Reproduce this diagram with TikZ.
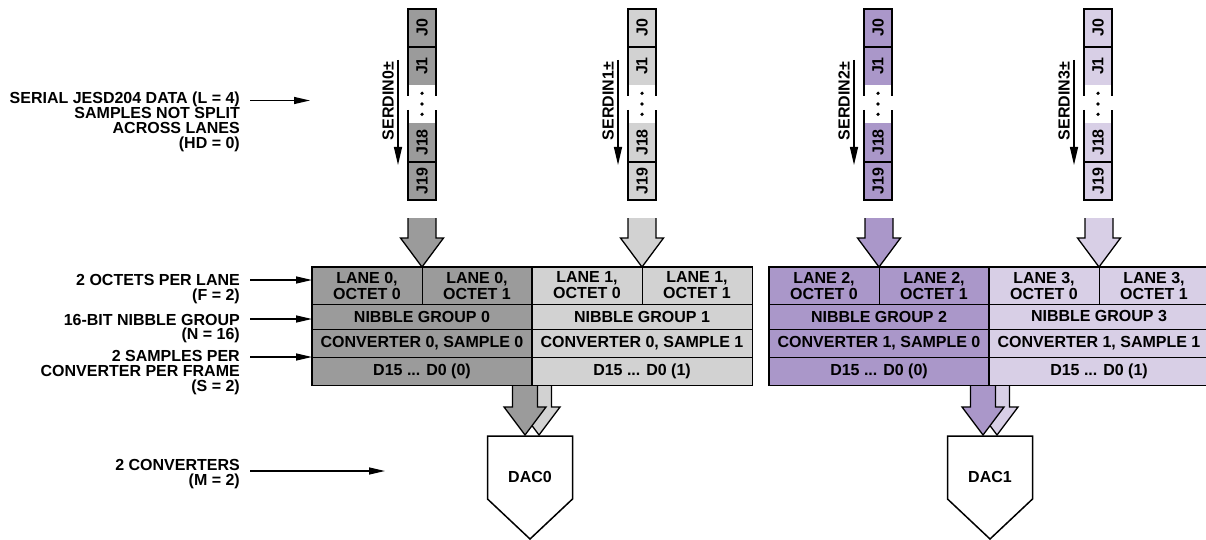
\documentclass[tikz,border=0pt]{standalone}
\usepackage{fontspec}
\setmainfont{Liberation Sans}
\usetikzlibrary{arrows.meta,calc}
\definecolor{dgray}{HTML}{9B9B9B}
\definecolor{lgray}{HTML}{D2D2D2}
\definecolor{dpurp}{HTML}{AA97C9}
\definecolor{lpurp}{HTML}{D8CFE6}
\tikzset{
 cell/.style={draw=black, line width=1pt, inner sep=0pt, align=center, font=\bfseries\fontsize{16}{16}\selectfont},
 lbl/.style={anchor=base east, align=right, inner sep=0pt, font=\bfseries\fontsize{16}{14.8}\selectfont},
 pointer/.style={line width=1.3pt, -{Triangle[length=16pt,width=7pt]}},
 colframe/.style={line width=1.8pt},
 blockarr/.style={draw=black, line width=1.3pt, line join=miter},
 jcell/.style={rotate=90, inner sep=0pt, minimum width=38pt, minimum height=28pt},
}
\newcommand\laneblock[6]{%
  \node[cell, fill=#2, minimum width=110pt, minimum height=37pt] (a#3) at ({#1+55},285.5) {LANE #3,\\OCTET 0};
  \node[cell, fill=#2, minimum width=110pt, minimum height=37pt] (b#3) at ({#1+165},285.5) {LANE #3,\\OCTET 1};
  \node[cell, fill=#2, minimum width=220pt, minimum height=25pt] (n#3) at ({#1+110},316.5) {NIBBLE GROUP #3};
  \node[cell, fill=#2, minimum width=220pt, minimum height=28pt] (c#3) at ({#1+110},343) {CONVERTER #4, SAMPLE #5};
  \node[cell, fill=#2, minimum width=220pt, minimum height=28pt] (d#3) at ({#1+110},371) {#6};
  \draw[colframe] (a#3.north west) rectangle (d#3.south east);
}
\newcommand\serialcol[3]{%
  \node[jcell, fill=#2] (jz#3) at (#1,28) {J0};
  \node[jcell, fill=#2] (jo#3) at (#1,66) {J1};
  \node[jcell, fill=#2] (je#3) at (#1,142.5) {J18};
  \node[jcell, fill=#2] (jn#3) at (#1,181) {J19};
  \fill (#1,93.3) circle (1.8pt) (#1,104) circle (1.8pt) (#1,114.3) circle (1.8pt);
  \draw[colframe] ({#1-14},96) -- ({#1-14},9) -- ({#1+14},9) -- ({#1+14},96);
  \draw[colframe] ({#1-14},110) -- ({#1-14},200) -- ({#1+14},200) -- ({#1+14},110);
  \draw[line width=1.3pt] ({#1-14},47) -- ({#1+14},47) ({#1-14},162) -- ({#1+14},162);
  \coordinate (st#3) at ({#1-24},60);
  \coordinate (se#3) at ({#1-24},165);
  \draw[line width=1.3pt, -{Triangle[length=18pt,width=8pt]}] (st#3) -- (se#3);
  \node[rotate=90, inner sep=0pt] (sl#3) at ({#1-34},101) {SERDIN#3±};
}
% x, top, head start, tip, half shaft, half head, colour
\newcommand\blockarrow[7]{%
  \path[fill=#7, blockarr] ({#1-#5},#2) -- ({#1-#5},#3) -- ({#1-#6},#3) -- (#1,#4) -- ({#1+#6},#3) -- ({#1+#5},#3) -- ({#1+#5},#2);
}
\newcommand\dacshape[2]{%
  \draw[line width=1.5pt, fill=white] ({#1-42.5},436) -- ({#1+42.5},436) -- ({#1+42.5},499) -- (#1,539) -- ({#1-42.5},499) -- cycle;
  \node[inner sep=0pt] (dac#2) at (#1,477) {DAC#2};
}
\begin{document}
\begin{tikzpicture}[x=1pt,y=-1pt, font=\bfseries\fontsize{16}{15.5}\selectfont, line join=miter]
\useasboundingbox (0,0) rectangle (1206,540);

% serial lanes
\serialcol{422}{dgray}{0}
\serialcol{642}{lgray}{1}
\serialcol{878}{dpurp}{2}
\serialcol{1098}{lpurp}{3}

% arrows from lanes into the table
\blockarrow{422}{218}{238}{267}{14}{21.5}{dgray}
\blockarrow{642}{218}{238}{267}{14}{21.5}{lgray}
\blockarrow{879}{218}{238}{267}{14}{21.5}{dpurp}
\blockarrow{1099}{218}{238}{267}{14}{21.5}{lpurp}

% table blocks
\laneblock{312}{dgray}{0}{0}{0}{D15 ... D0 (0)}
\laneblock{532}{lgray}{1}{0}{1}{D15 ... D0 (1)}
\laneblock{769}{dpurp}{2}{1}{0}{D15 ... D0 (0)}
\laneblock{989}{lpurp}{3}{1}{1}{D15 ... D0 (1)}

% arrows to converters
\blockarrow{539}{386}{407}{435}{12.5}{21}{lgray}
\blockarrow{525}{386}{407}{435}{12.5}{21}{dgray}
\blockarrow{997}{386}{407}{435}{12.5}{21}{lpurp}
\blockarrow{983}{386}{407}{435}{12.5}{21}{dpurp}

\dacshape{530}{0}
\dacshape{990}{1}

% left labels (anchor = baseline of the last line)
\node[lbl] (l1) at (240,148.4) {SERIAL JESD204 DATA (L = 4)\\SAMPLES NOT SPLIT\\ACROSS LANES\\(HD = 0)};
\node[lbl] (l2) at (240,300.5) {2 OCTETS PER LANE\\(F = 2)};
\node[lbl] (l3) at (240,339.8) {16-BIT NIBBLE GROUP\\(N = 16)};
\node[lbl] (l4) at (240,391.3) {2 SAMPLES PER\\CONVERTER PER FRAME\\(S = 2)};
\node[lbl] (l5) at (240,485.5) {2 CONVERTERS\\(M = 2)};

\coordinate (p1s) at (250,100.5); \coordinate (p1e) at (310,100.5);
\coordinate (p2s) at (250,280);   \coordinate (p2e) at (312,280);
\coordinate (p3s) at (250,319);   \coordinate (p3e) at (312,319);
\coordinate (p4s) at (250,357);   \coordinate (p4e) at (312,357);
\coordinate (p5s) at (250,471);   \coordinate (p5e) at (385,471);
\draw[pointer] (p1s) -- (p1e);
\draw[pointer] (p2s) -- (p2e);
\draw[pointer] (p3s) -- (p3e);
\draw[pointer] (p4s) -- (p4e);
\draw[pointer] (p5s) -- (p5e);
\end{tikzpicture}
\end{document}
